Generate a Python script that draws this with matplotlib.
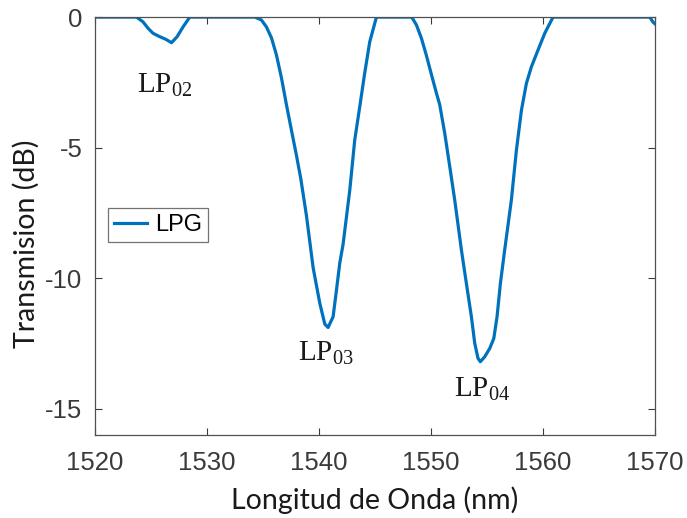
import matplotlib
matplotlib.use("Agg")
import matplotlib.pyplot as plt

# transmission spectrum of the grating, wavelength in nm and loss in dB
wl = [1520.0, 1523.72, 1524.3, 1524.76, 1525.2, 1525.8, 1526.34, 1526.85, 1527.35, 1527.89, 1528.48,
      1534.29, 1534.88, 1535.33, 1535.78, 1536.22, 1536.67, 1537.12, 1537.56, 1538.01, 1538.4,
      1538.9, 1539.5, 1540.09, 1540.54, 1540.83, 1541.28, 1541.58, 1541.88, 1542.17, 1542.77,
      1543.21, 1543.66, 1544.1, 1544.55, 1545.15,
      1548.3, 1548.72, 1549.16, 1549.6, 1550.06, 1550.5, 1550.8, 1551.25, 1551.7, 1552.14,
      1552.74, 1553.18, 1553.63, 1553.93, 1554.22, 1554.43, 1554.82, 1555.27, 1555.63, 1555.92,
      1556.22, 1556.6, 1557.2, 1557.65, 1558.1, 1558.54, 1558.99, 1559.58, 1560.18, 1560.92,
      1569.55, 1569.85, 1570.0]
trans = [0.0, 0.0, -0.18, -0.43, -0.62, -0.75, -0.85, -0.98, -0.75, -0.37, 0.0,
         0.0, -0.11, -0.38, -0.8, -1.45, -2.33, -3.37, -4.33, -5.3, -6.2,
         -7.6, -9.6, -10.95, -11.75, -11.88, -11.47, -10.45, -9.4, -8.7, -6.62,
         -4.71, -3.43, -2.15, -0.95, 0.0,
         0.0, -0.3, -0.8, -1.45, -2.2, -2.9, -3.35, -4.45, -5.73, -7.0,
         -8.92, -10.19, -11.47, -12.49, -13.06, -13.19, -13.0, -12.68, -12.3, -11.47,
         -10.19, -8.92, -7.0, -5.09, -3.56, -2.54, -1.9, -1.26, -0.62, 0.0,
         0.0, -0.19, -0.25]

modes = [r"LP$_{\mathregular{02}}$", r"LP$_{\mathregular{03}}$", r"LP$_{\mathregular{04}}$"]
mode_x = [1526.25, 1540.65, 1554.55]
mode_y = [-2.6, -12.85, -14.25]

xticks = [1520, 1530, 1540, 1550, 1560, 1570]
yticks = [0, -5, -10, -15]

plt.rcParams["mathtext.fontset"] = "custom"
plt.rcParams["mathtext.rm"] = "Liberation Serif"
plt.rcParams["axes.unicode_minus"] = False

fig = plt.figure(figsize=(6.87, 5.18), dpi=100)
ax = fig.add_axes([0.138, 0.160, 0.815, 0.807])

ax.plot(wl, trans, color="#0072BD", lw=2.3, label="LPG", solid_joinstyle="round")

for t, x, y in zip(modes, mode_x, mode_y):
    ax.text(x, y, t, ha="center", va="center", fontsize=21,
            family="Liberation Serif", color="#1a1a1a")

ax.set_xlim(1520, 1570)
ax.set_ylim(-16, 0)
ax.set_xticks(xticks)
ax.set_yticks(yticks)
ax.tick_params(direction="in", length=5, width=0.8, colors="#3a3a3a",
               labelsize=18.5, top=True, right=True)
ax.tick_params(axis="x", pad=11.5)
ax.tick_params(axis="y", pad=9)
for lab in ax.get_xticklabels() + ax.get_yticklabels():
    lab.set_family("Liberation Sans")
for s in ax.spines.values():
    s.set_color("#505050")
    s.set_linewidth(0.9)

ax.set_xlabel("Longitud de Onda (nm)", fontsize=20.5, family="Lato", color="#1a1a1a")
ax.set_ylabel("Transmision (dB)", fontsize=20.5, family="Lato", color="#1a1a1a")
ax.xaxis.set_label_coords(0.5, -0.122)
ax.yaxis.set_label_coords(-0.098, 0.457)

leg = ax.legend(loc="center left", bbox_to_anchor=(0.023, 0.502), borderaxespad=0,
                prop={"family": "Liberation Sans", "size": 17},
                fancybox=False, edgecolor="#505050", handlelength=1.4,
                borderpad=0.25, handletextpad=0.35)
leg.get_frame().set_linewidth(0.9)

fig.savefig("out.png", dpi=100)
